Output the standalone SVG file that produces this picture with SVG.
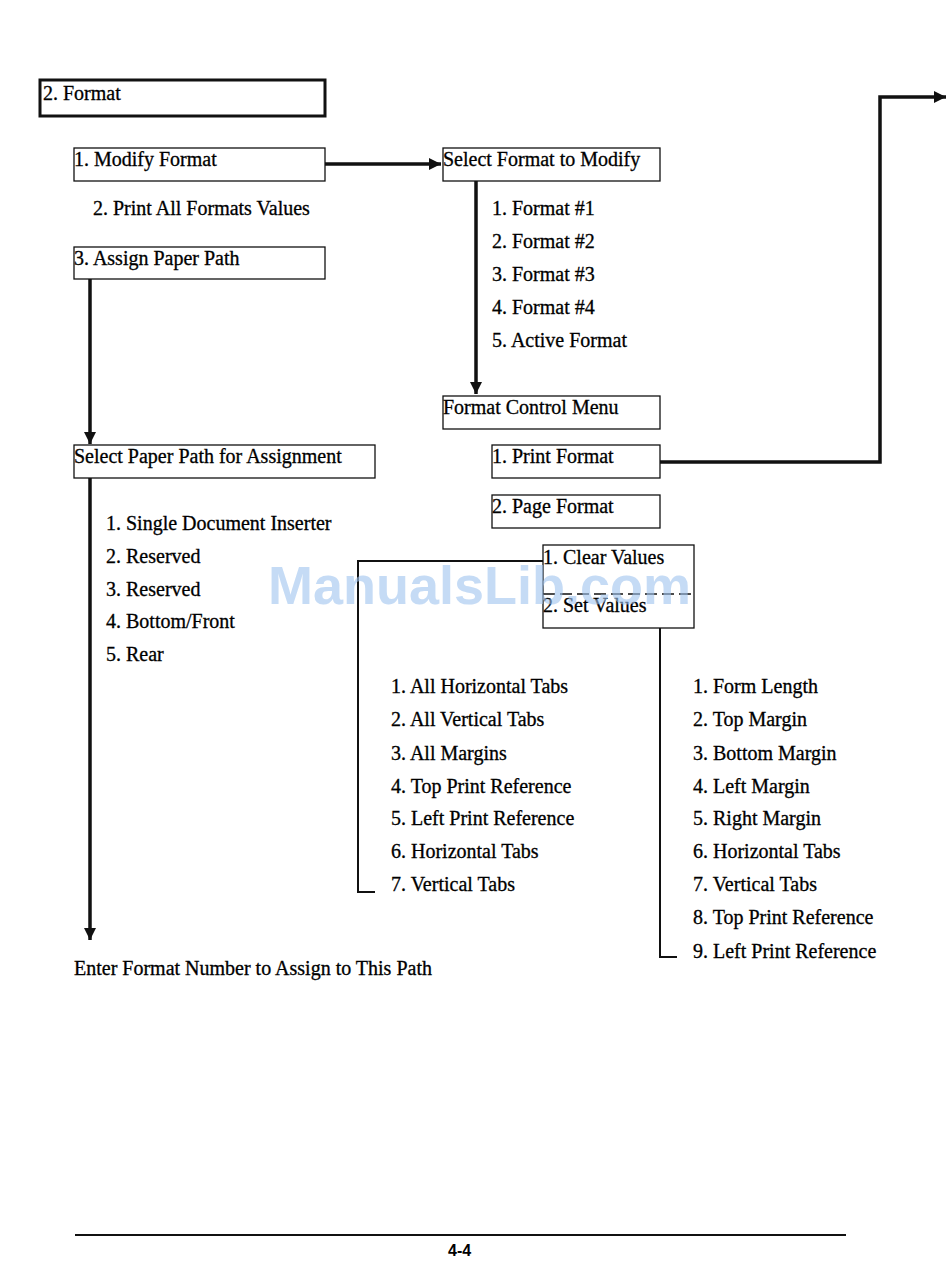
<svg xmlns="http://www.w3.org/2000/svg" width="950" height="1279" viewBox="0 0 950 1279">
<style>
text{font-family:"Liberation Serif","DejaVu Serif",serif;font-size:20px;fill:#000;stroke:#000;stroke-width:0.3}
.box{fill:none;stroke:#111;stroke-width:1.3}
.thick{fill:none;stroke:#111;stroke-width:3.5}
.thin{fill:none;stroke:#111;stroke-width:2}
text.wm{font-family:"Liberation Sans",Arial,sans-serif;font-size:54px;font-weight:bold;fill:#9ec3ee;fill-opacity:0.6;stroke:none}
</style>
<defs>
<marker id="ah" viewBox="0 0 10 10" refX="10" refY="5" markerWidth="3.5" markerHeight="3.5" orient="auto" markerUnits="strokeWidth"><path d="M0,0 L10,5 L0,10 z" fill="#111"/></marker>
</defs>
<rect width="950" height="1279" fill="#fff"/>
<g id="connectors">
<path class="thick" d="M325,164 H441" marker-end="url(#ah)"/>
<path class="thick" d="M476,181 V394" marker-end="url(#ah)"/>
<path class="thick" d="M660,462 H880 V97 H946" marker-end="url(#ah)"/>
<path class="thick" d="M90,279 V444" marker-end="url(#ah)"/>
<path class="thick" d="M90,478 V940" marker-end="url(#ah)"/>
<path class="thin" d="M543,561 H358 V892 H375"/>
<path class="thin" d="M660,628 V957 H677"/>
</g>
<g id="n-format"><rect x="40" y="80" width="285" height="36" fill="none" stroke="#111" stroke-width="3"/><text x="43" y="100">2. Format</text></g>
<g id="n-modify"><rect class="box" x="74" y="148" width="251" height="33"/><text x="74" y="166">1. Modify Format</text></g>
<g id="n-print-all"><text x="93" y="215">2. Print All Formats Values</text></g>
<g id="n-assign"><rect class="box" x="74" y="247" width="251" height="32"/><text x="74" y="265">3. Assign Paper Path</text></g>
<g id="n-select-format"><rect class="box" x="443" y="148" width="217" height="33"/><text x="443" y="166">Select Format to Modify</text></g>
<g id="n-format-list">
<text x="492" y="215">1. Format #1</text>
<text x="492" y="248">2. Format #2</text>
<text x="492" y="281">3. Format #3</text>
<text x="492" y="314">4. Format #4</text>
<text x="492" y="347">5. Active Format</text>
</g>
<g id="n-control"><rect class="box" x="443" y="396" width="217" height="33"/><text x="443" y="414">Format Control Menu</text></g>
<g id="n-print-format"><rect class="box" x="492" y="445" width="168" height="33"/><text x="492" y="463">1. Print Format</text></g>
<g id="n-page-format"><rect class="box" x="492" y="495" width="168" height="33"/><text x="492" y="513">2. Page Format</text></g>
<g id="n-values"><rect class="box" x="543" y="545" width="151" height="83"/><line x1="543" y1="594" x2="694" y2="594" stroke="#111" stroke-width="1.5" stroke-dasharray="12,5"/><text x="543" y="564">1. Clear Values</text><text x="543" y="612">2. Set Values</text></g>
<g id="n-select-path"><rect class="box" x="74" y="445" width="301" height="33"/><text x="74" y="463">Select Paper Path for Assignment</text></g>
<g id="n-path-list">
<text x="106" y="530">1. Single Document Inserter</text>
<text x="106" y="563">2. Reserved</text>
<text x="106" y="596">3. Reserved</text>
<text x="106" y="628">4. Bottom/Front</text>
<text x="106" y="661">5. Rear</text>
</g>
<g id="n-enter"><text x="74" y="975">Enter Format Number to Assign to This Path</text></g>
<g id="n-clear-list">
<text x="391" y="693">1. All Horizontal Tabs</text>
<text x="391" y="726">2. All Vertical Tabs</text>
<text x="391" y="760">3. All Margins</text>
<text x="391" y="793">4. Top Print Reference</text>
<text x="391" y="825">5. Left Print Reference</text>
<text x="391" y="858">6. Horizontal Tabs</text>
<text x="391" y="891">7. Vertical Tabs</text>
</g>
<g id="n-set-list">
<text x="693" y="693">1. Form Length</text>
<text x="693" y="726">2. Top Margin</text>
<text x="693" y="760">3. Bottom Margin</text>
<text x="693" y="793">4. Left Margin</text>
<text x="693" y="825">5. Right Margin</text>
<text x="693" y="858">6. Horizontal Tabs</text>
<text x="693" y="891">7. Vertical Tabs</text>
<text x="693" y="924">8. Top Print Reference</text>
<text x="693" y="958">9. Left Print Reference</text>
</g>
<g id="footer"><line x1="75" y1="1235" x2="846" y2="1235" stroke="#111" stroke-width="2"/><text x="448" y="1256" style="font-family:'Liberation Sans',Arial,sans-serif;font-weight:bold;font-size:16px;stroke:none">4-4</text></g>
<text class="wm" x="268" y="604">ManualsLib.com</text>
</svg>
